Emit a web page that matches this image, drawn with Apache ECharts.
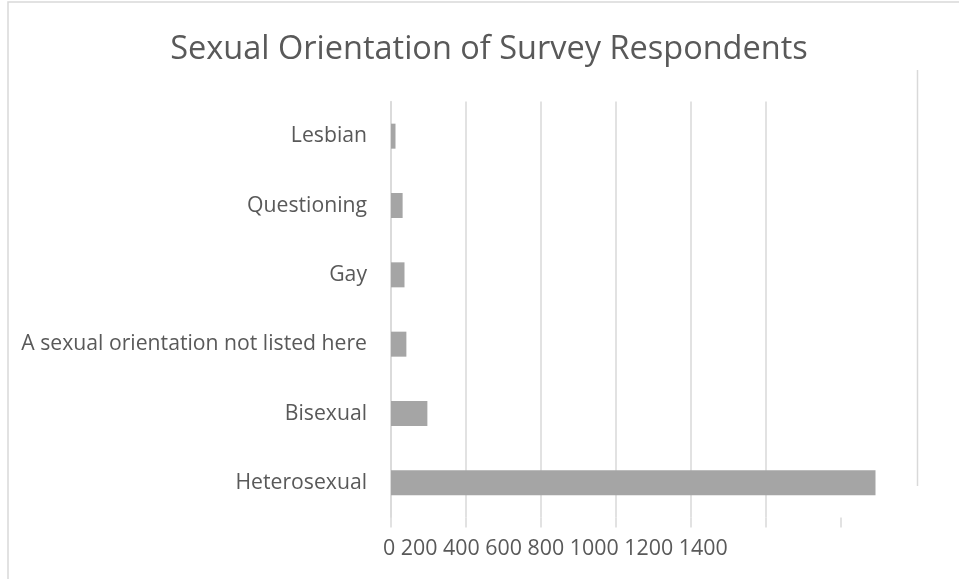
<!DOCTYPE html>
<html>
<head>
<meta charset="utf-8">
<script src="https://cdn.jsdelivr.net/npm/echarts@6/dist/echarts.min.js"></script>
<style>
  html, body { margin: 0; padding: 0; background: #ffffff; }
  #chart { width: 959px; height: 579px; }
</style>
</head>
<body>
<div id="chart"></div>
<script>
// Survey responses by sexual orientation (bottom-to-top order on the axis)
const categories = [
  'Heterosexual',
  'Bisexual',
  'A sexual orientation not listed here',
  'Gay',
  'Questioning',
  'Lesbian'
];
const respondents = [1292, 97, 41, 36, 31, 12];
const tickValues = [0, 200, 400, 600, 800, 1000, 1200, 1400];

const textColor = '#595959';
const gridColor = '#d9d9d9';
const fontFamily = '"Open Sans", "Liberation Sans", sans-serif';

const chart = echarts.init(document.getElementById('chart'), null, { renderer: 'canvas' });

chart.setOption({
  backgroundColor: '#ffffff',
  animation: false,
  title: {
    text: 'Sexual Orientation of Survey Respondents',
    left: 484,
    top: 28,
    textAlign: 'center',
    textStyle: { color: textColor, fontSize: 32.5, fontWeight: 'normal', fontFamily: fontFamily }
  },
  grid: { left: 391, right: 43, top: 101.5, bottom: 61.5, containLabel: false },
  xAxis: {
    type: 'value',
    min: tickValues[0],
    max: tickValues[tickValues.length - 1],
    interval: tickValues[1] - tickValues[0],
    axisLine: { show: false },
    axisTick: {
      show: true,
      length: 10,
      customValues: tickValues.slice(0, -1),
      lineStyle: { color: gridColor, width: 1.5 }
    },
    axisLabel: { show: false },
    splitLine: { show: true, showMaxLine: false, lineStyle: { color: gridColor, width: 1.5 } }
  },
  yAxis: {
    type: 'category',
    data: categories,
    axisLine: { show: true, lineStyle: { color: gridColor, width: 1.5 } },
    axisTick: { show: false },
    axisLabel: { color: textColor, fontSize: 21.2, fontFamily: fontFamily, margin: 24 }
  },
  series: [{
    type: 'bar',
    data: respondents,
    barWidth: 25,
    itemStyle: { color: '#a5a5a5' }
  }],
  graphic: [
    {
      // outer chart frame
      type: 'rect',
      shape: { x: 8, y: 2, width: 1000, height: 700 },
      style: { fill: 'none', stroke: gridColor, lineWidth: 1.5 },
      silent: true
    },
    {
      // axis values written as one line under the plot
      type: 'text',
      left: 383,
      top: 538,
      style: {
        text: tickValues.join(' '),
        fill: textColor,
        fontSize: 21.4,
        fontFamily: fontFamily
      }
    }
  ]
});

// right-hand boundary rule at the axis maximum
const xMax = chart.convertToPixel({ xAxisIndex: 0 }, tickValues[tickValues.length - 1]);
chart.setOption({
  graphic: [
    {}, {},
    {
      type: 'line',
      shape: { x1: xMax + 1.5, y1: 70, x2: xMax + 1.5, y2: 486 },
      style: { stroke: gridColor, lineWidth: 1.5 },
      silent: true
    }
  ]
});
</script>
</body>
</html>
